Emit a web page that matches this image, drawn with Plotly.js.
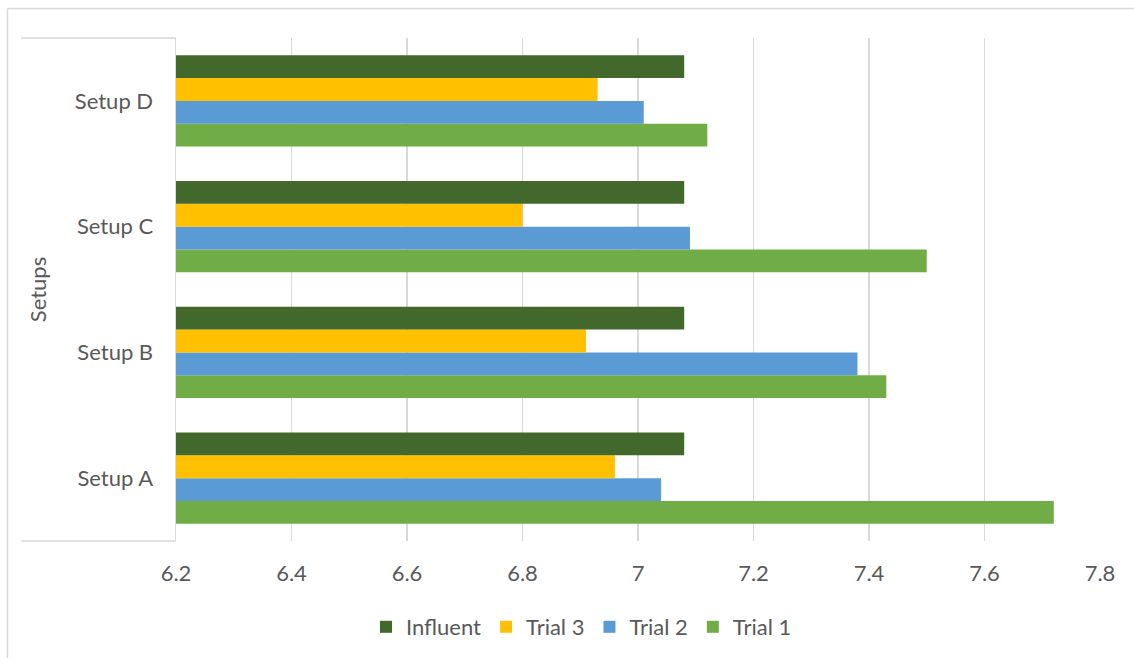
<!DOCTYPE html>
<html>
<head>
<meta charset="utf-8">
<script src="https://cdn.plot.ly/plotly-3.0.1.min.js"></script>
<style>
  html, body { margin: 0; padding: 0; background: #ffffff; }
  #chart { width: 1134px; height: 658px; }
</style>
</head>
<body>
<div id="chart"></div>
<script>
// pH readings per setup
const setups = ["Setup A", "Setup B", "Setup C", "Setup D"];
const trial1 = [7.72, 7.43, 7.50, 7.12];
const trial2 = [7.04, 7.38, 7.09, 7.01];
const trial3 = [6.96, 6.91, 6.80, 6.93];
const influent = [7.08, 7.08, 7.08, 7.08];

const xTicks = [6.2, 6.4, 6.6, 6.8, 7.0, 7.2, 7.4, 7.6, 7.8];
const xTickText = ["6.2", "6.4", "6.6", "6.8", "7", "7.2", "7.4", "7.6", "7.8"];

const FONT = "Lato, 'Open Sans', sans-serif";
const FS = 22;
const TEXT = "#595959";
const GRID = "#d9d9d9";

function series(name, values, color) {
  return {
    type: "bar",
    orientation: "h",
    name: name,
    y: setups,
    x: values,
    base: 0,
    marker: { color: color },
    hoverinfo: "name+x"
  };
}

// Trial 1 drawn first so it sits lowest in each group
const data = [
  series("Trial 1", trial1, "#70ad47"),
  series("Trial 2", trial2, "#5b9bd5"),
  series("Trial 3", trial3, "#ffc000"),
  series("Influent", influent, "#43682b")
];

// pixel helpers for frame lines drawn around the plot area
const L = 176, R = 34, T = 38, B = 117, W = 1134, H = 658;
const pw = W - L - R, ph = H - T - B;
const px = v => (v - L) / pw;
const py = v => (H - B - v) / ph;

const frame = { color: GRID, width: 1.5 };
const shapes = [
  // chart border
  { type: "line", xref: "paper", yref: "paper", x0: px(7.5), x1: px(1140), y0: py(8.5), y1: py(8.5), line: frame, layer: "below" },
  { type: "line", xref: "paper", yref: "paper", x0: px(7.5), x1: px(7.5), y0: py(8.5), y1: py(665), line: frame, layer: "below" },
  // category label box
  { type: "line", xref: "paper", yref: "paper", x0: px(21), x1: 0, y0: 1, y1: 1, line: frame, layer: "below" },
  { type: "line", xref: "paper", yref: "paper", x0: px(21), x1: 0, y0: 0, y1: 0, line: frame, layer: "below" }
];

const layout = {
  width: W,
  height: H,
  margin: { l: L, r: R, t: T, b: B, pad: 0, autoexpand: false },
  paper_bgcolor: "#ffffff",
  plot_bgcolor: "#ffffff",
  barmode: "group",
  bargap: 0.276,
  bargroupgap: 0,
  font: { family: FONT, size: FS, color: TEXT },
  showlegend: true,
  legend: {
    orientation: "h",
    traceorder: "reversed",
    x: px(366),
    xanchor: "left",
    y: py(606),
    yanchor: "top",
    font: { family: FONT, size: FS, color: TEXT },
    itemwidth: 30,
    bgcolor: "rgba(0,0,0,0)"
  },
  xaxis: {
    range: [6.2, 7.8],
    tickmode: "array",
    tickvals: xTicks,
    ticktext: xTickText,
    showgrid: true,
    gridcolor: GRID,
    gridwidth: 1.5,
    zeroline: false,
    showline: false,
    ticks: "",
    ticklabelstandoff: 17,
    tickfont: { family: FONT, size: FS, color: TEXT },
    fixedrange: true
  },
  yaxis: {
    type: "category",
    categoryorder: "array",
    categoryarray: setups,
    showgrid: false,
    zeroline: false,
    showline: true,
    linecolor: GRID,
    linewidth: 1.5,
    ticks: "",
    ticklabelstandoff: 17,
    tickfont: { family: FONT, size: FS, color: TEXT },
    title: { text: "Setups", font: { family: FONT, size: FS, color: TEXT }, standoff: 22 },
    fixedrange: true
  },
  shapes: shapes
};

Plotly.newPlot("chart", data, layout, { displayModeBar: false, staticPlot: true });
</script>
</body>
</html>
